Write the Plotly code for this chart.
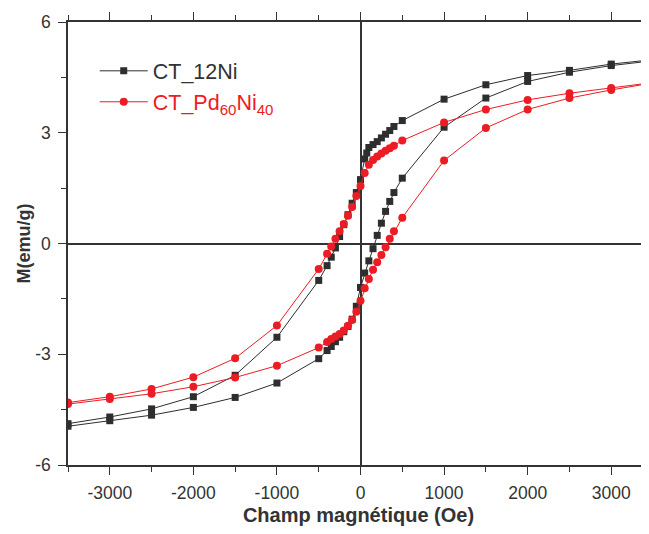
import plotly.graph_objects as go

# CT_12Ni hysteresis loop (descending branch then ascending branch)
ni_field_down = [3500, 3000, 2500, 2000, 1500, 1000, 500, 400, 350, 300, 250, 200, 150, 100, 75, 50, 0,
                 -50, -100, -150, -200, -250, -300, -350, -400, -500, -1000, -1500, -2000, -2500, -3000, -3500]
ni_m_down = [4.98, 4.86, 4.69, 4.55, 4.30, 3.91, 3.33, 3.17, 3.06, 2.96, 2.86, 2.76, 2.68, 2.60, 2.45, 2.29, 1.73,
             1.38, 1.09, 0.78, 0.51, 0.19, -0.12, -0.37, -0.60, -1.00, -2.54, -3.57, -4.15, -4.48, -4.70, -4.88]
ni_field_up = [-3500, -3000, -2500, -2000, -1500, -1000, -500, -400, -350, -300, -250, -200, -150, -100, -50, 0,
               50, 100, 150, 200, 250, 300, 350, 400, 500, 1000, 1500, 2000, 2500, 3000, 3500]
ni_m_up = [-4.95, -4.80, -4.65, -4.44, -4.17, -3.78, -3.12, -2.90, -2.79, -2.66, -2.54, -2.39, -2.25, -2.05, -1.70, -1.19,
           -0.80, -0.47, -0.14, 0.22, 0.55, 0.87, 1.14, 1.38, 1.77, 3.15, 3.94, 4.39, 4.64, 4.82, 4.95]

# CT_Pd60Ni40 hysteresis loop
pd_field_down = [3500, 3000, 2500, 2000, 1500, 1000, 500, 400, 350, 300, 250, 200, 150, 100, 50, 0,
                 -50, -100, -150, -200, -250, -300, -350, -400, -500, -1000, -1500, -2000, -2500, -3000, -3500]
pd_m_down = [4.36, 4.21, 4.07, 3.89, 3.63, 3.28, 2.79, 2.65, 2.58, 2.51, 2.44, 2.36, 2.26, 2.13, 1.91, 1.56,
             1.29, 0.99, 0.75, 0.53, 0.33, 0.13, -0.08, -0.28, -0.69, -2.22, -3.11, -3.62, -3.94, -4.15, -4.31]
pd_field_up = [-3500, -3000, -2500, -2000, -1500, -1000, -500, -400, -350, -300, -250, -200, -150, -100, -50, 0,
               50, 100, 150, 200, 250, 300, 350, 400, 500, 1000, 1500, 2000, 2500, 3000, 3500]
pd_m_up = [-4.35, -4.21, -4.07, -3.88, -3.63, -3.31, -2.82, -2.67, -2.59, -2.52, -2.45, -2.36, -2.23, -2.07, -1.85, -1.55,
           -1.21, -0.96, -0.71, -0.51, -0.31, -0.10, 0.13, 0.33, 0.70, 2.25, 3.13, 3.63, 3.94, 4.16, 4.35]

x_ticks = [-3000, -2000, -1000, 0, 1000, 2000, 3000]
x_tick_labels = ["-3000", "-2000", "-1000", "0", "1000", "2000", "3000"]
y_ticks = [-6, -3, 0, 3, 6]
y_tick_labels = ["-6", "-3", "0", "3", "6"]

BLACK = "#2e2e2e"
RED = "#ec1c24"
FONT = "Liberation Sans, Arial, sans-serif"

fig = go.Figure()
fig.add_trace(go.Scatter(
    x=ni_field_down + ni_field_up, y=ni_m_down + ni_m_up, mode="lines+markers",
    name="CT_12Ni",
    line=dict(color=BLACK, width=1),
    marker=dict(symbol="square", size=7, color=BLACK),
))
fig.add_trace(go.Scatter(
    x=pd_field_down + pd_field_up, y=pd_m_down + pd_m_up, mode="lines+markers",
    name="<span style='color:%s'>CT_Pd<sub>60</sub>Ni<sub>40</sub></span>" % RED,
    line=dict(color=RED, width=1),
    marker=dict(symbol="circle", size=8, color=RED),
))

axis_common = dict(
    showline=True, linecolor="#333333", linewidth=1.5,
    ticks="outside", ticklen=8, tickwidth=1.2, tickcolor="#333333",
    showgrid=False, zeroline=True, zerolinecolor="#333333", zerolinewidth=2,
    tickfont=dict(family=FONT, size=17.5, color="#333333"),
    automargin=False,
)

fig.update_layout(
    width=641, height=518,
    paper_bgcolor="white", plot_bgcolor="white",
    margin=dict(l=60, r=0, t=14, b=61),
    font=dict(family=FONT, color="#333333"),
    xaxis=dict(
        range=[-3500, 3452], tickvals=x_ticks, ticktext=x_tick_labels, mirror="ticks",
        ticklabelstandoff=3,
        minor=dict(dtick=500, ticklen=5, ticks="outside", tickcolor="#333333"),
        title=dict(text="<b>Champ magnétique (Oe)</b>", font=dict(family=FONT, size=20, color="#333333"), standoff=11),
        **axis_common,
    ),
    yaxis=dict(
        range=[-6, 6], tickvals=y_ticks, ticktext=y_tick_labels, ticklabelstandoff=4,
        minor=dict(dtick=1.5, ticklen=5, ticks="outside", tickcolor="#333333"),
        title=dict(text="<b>M(emu/g)</b>", font=dict(family=FONT, size=18, color="#333333"), standoff=0),
        **axis_common,
    ),
    legend=dict(
        x=0.046, y=0.936, xanchor="left", yanchor="top",
        bgcolor="rgba(0,0,0,0)", itemwidth=48,
        font=dict(family=FONT, size=21.5, color="#333333"),
        tracegroupgap=0,
    ),
    showlegend=True,
)

fig.write_html("out.html")
